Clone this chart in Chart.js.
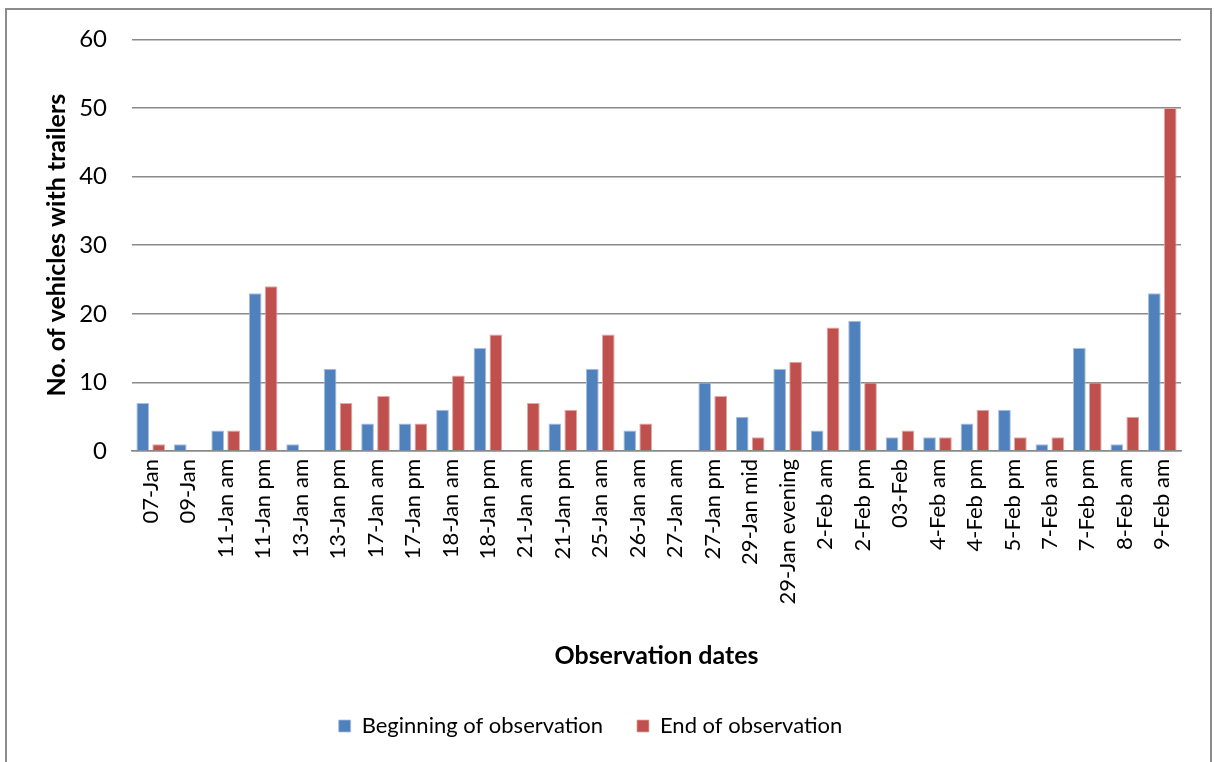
<!DOCTYPE html>
<html>
<head>
<meta charset="utf-8">
<script src="https://cdn.jsdelivr.net/npm/chart.js@4/dist/chart.umd.min.js"></script>
<style>
  html, body { margin: 0; padding: 0; background: #fff; }
  #wrap { position: relative; width: 1214px; height: 762px; overflow: hidden; }
  #frame { position: absolute; left: 5px; top: 8px; width: 1207px; height: 800px; border: 2px solid #8c8c8c; box-sizing: border-box; }
  #chart { position: absolute; left: 0; top: 0; }
</style>
</head>
<body>
<div id="wrap">
  <div id="frame"></div>
  <canvas id="chart" width="1214" height="762"></canvas>
</div>
<script>
// observation dates along the x axis
const dates = [
    '07-Jan', '09-Jan', '11-Jan am', '11-Jan pm', '13-Jan am', '13-Jan pm',
    '17-Jan am', '17-Jan pm', '18-Jan am', '18-Jan pm', '21-Jan am', '21-Jan pm',
    '25-Jan am', '26-Jan am', '27-Jan am', '27-Jan pm', '29-Jan mid', '29-Jan evening',
    '2-Feb am', '2-Feb pm', '03-Feb', '4-Feb am', '4-Feb pm', '5-Feb pm',
    '7-Feb am', '7-Feb pm', '8-Feb am', '9-Feb am'
];

const beginningCounts = [7, 1, 3, 23, 1, 12, 4, 4, 6, 15, 0, 4, 12, 3, 0, 10, 5, 12, 3, 19, 2, 2, 4, 6, 1, 15, 1, 23];
const endCounts       = [1, 0, 3, 24, 0, 7, 8, 4, 11, 17, 7, 6, 17, 4, 0, 8, 2, 13, 18, 10, 3, 2, 6, 2, 2, 10, 5, 50];

const yTicks = [0, 10, 20, 30, 40, 50, 60];

const FONT = 'Lato, "Open Sans", sans-serif';
const gridColor = '#8a8a8a';

const ctx = document.getElementById('chart').getContext('2d');
new Chart(ctx, {
    type: 'bar',
    data: {
        labels: dates,
        datasets: [
            {
                label: 'Beginning of observation',
                data: beginningCounts,
                backgroundColor: '#4f81bd',
                borderColor: '#a9c0dd',
                borderWidth: { top: 1, left: 1, right: 1, bottom: 0 },
                categoryPercentage: 0.85,
                barPercentage: 0.8
            },
            {
                label: 'End of observation',
                data: endCounts,
                backgroundColor: '#c0504d',
                borderColor: '#e0a9a7',
                borderWidth: { top: 1, left: 1, right: 1, bottom: 0 },
                categoryPercentage: 0.85,
                barPercentage: 0.8
            }
        ]
    },
    options: {
        responsive: false,
        animation: false,
        layout: { padding: { left: 0, right: 33, top: 38, bottom: 15 } },
        plugins: {
            tooltip: { enabled: false },
            legend: {
                position: 'bottom',
                labels: {
                    color: '#000',
                    font: { family: FONT, size: 22 },
                    boxWidth: 12,
                    boxHeight: 12,
                    padding: 34
                }
            }
        },
        scales: {
            x: {
                grid: { display: false, drawTicks: false },
                border: { display: true, color: gridColor, width: 1.5 },
                afterFit: scale => { scale.height = 230; },
                ticks: {
                    color: '#000',
                    font: { family: FONT, size: 22 },
                    minRotation: 90,
                    maxRotation: 90,
                    autoSkip: false,
                    padding: 8
                },
                title: {
                    display: true,
                    text: 'Observation dates',
                    color: '#000',
                    font: { family: FONT, size: 25, weight: 'bold' },
                    padding: { top: 0, bottom: 10 }
                }
            },
            y: {
                min: 0,
                max: 60,
                afterFit: scale => { scale.width = 132; },
                afterBuildTicks: scale => { scale.ticks = yTicks.map(v => ({ value: v })); },
                grid: { color: gridColor, lineWidth: 1.5, drawTicks: false },
                border: { display: false },
                ticks: {
                    color: '#000',
                    font: { family: FONT, size: 24 },
                    padding: 25
                },
                title: {
                    display: true,
                    text: 'No. of vehicles with trailers',
                    color: '#000',
                    font: { family: FONT, size: 25, weight: 'bold' },
                    padding: { top: 42, bottom: 0 }
                }
            }
        }
    }
});
</script>
</body>
</html>
